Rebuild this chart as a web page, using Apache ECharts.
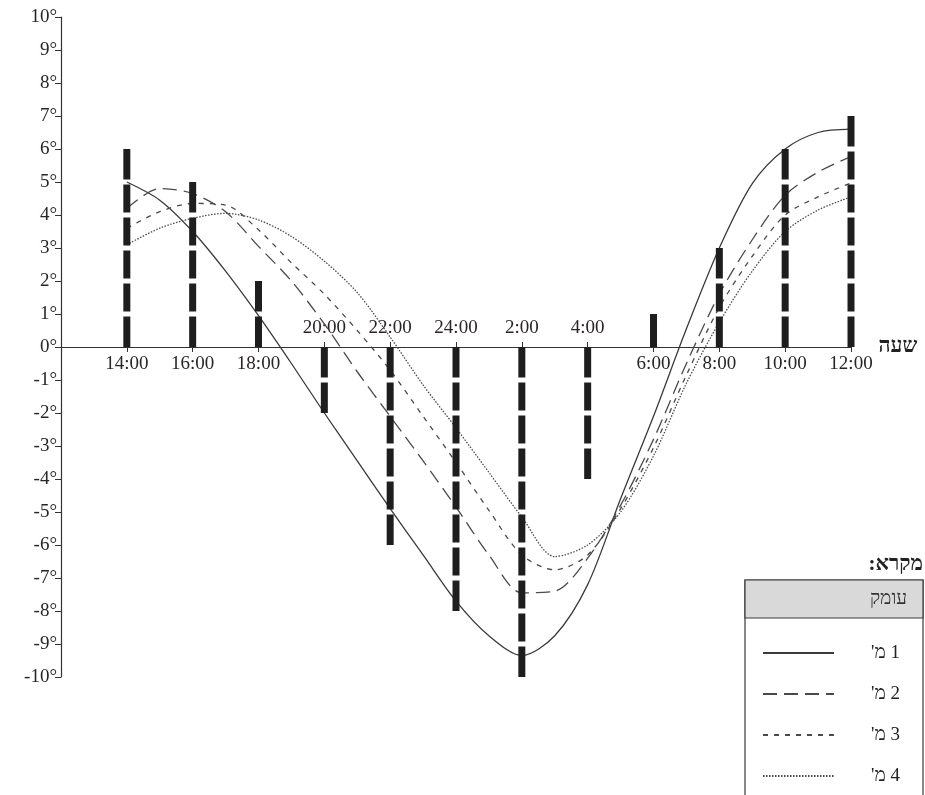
<!DOCTYPE html>
<html>
<head>
<meta charset="utf-8">
<script src="https://cdn.jsdelivr.net/npm/echarts@6/dist/echarts.min.js"></script>
<style>
html, body { margin: 0; padding: 0; background: #fff; }
#chart { width: 925px; height: 795px; }
</style>
</head>
<body>
<div id="chart"></div>
<script>
// שעות - ציר X (כל שעה, מ-12:00 בצהריים עד 12:00 למחרת)
var hours = ['12:00', '13:00', '14:00', '15:00', '16:00', '17:00', '18:00', '19:00', '20:00', '21:00', '22:00', '23:00', '24:00',
    '1:00', '2:00', '3:00', '4:00', '5:00', '6:00', '7:00', '8:00', '9:00', '10:00', '11:00', '12:00'];
var labelsAbove = ['20:00', '22:00', '24:00', '2:00', '4:00'];
var labelsBelow = ['14:00', '16:00', '18:00', '6:00', '8:00', '10:00', '12:00'];

// טמפרטורת האוויר (עמודות מקווקוות)
var barHours = ['14:00', '16:00', '18:00', '20:00', '22:00', '24:00', '2:00', '4:00', '6:00', '8:00', '10:00', '12:00'];
var barValues = [6, 5, 2, -2, -6, -8, -10, -4, 1, 3, 6, 7];

// טמפרטורה לפי עומק, מ-14:00 עד 12:00
var curveStart = '14:00';
var depth1 = [5.0, 4.45, 3.5, 2.3, 0.95, -0.5, -2.0, -3.45, -4.9, -6.3, -7.7, -8.75, -9.35, -8.75, -7.2, -4.6, -2.1, 0.55, 3.0, 4.95, 6.0, 6.5, 6.6];
var depth2 = [4.2, 4.8, 4.65, 4.1, 3.05, 2.0, 0.7, -0.75, -2.1, -3.45, -4.85, -6.3, -7.45, -7.4, -6.4, -4.8, -2.8, -0.5, 1.6, 3.25, 4.6, 5.3, 5.77];
var depth3 = [3.6, 4.1, 4.35, 4.3, 3.55, 2.55, 1.6, 0.5, -0.7, -2.1, -3.5, -4.95, -6.3, -6.75, -6.3, -4.9, -3.05, -0.85, 1.2, 2.75, 4.0, 4.55, 4.97];
var depth4 = [3.1, 3.6, 3.9, 4.05, 3.85, 3.35, 2.6, 1.65, 0.3, -1.15, -2.45, -3.8, -5.15, -6.35, -6.0, -5.0, -3.3, -1.1, 0.75, 2.3, 3.5, 4.15, 4.55];
var depthNames = ["1 מ'", "2 מ'", "3 מ'", "4 מ'"];

var FONT = "'Liberation Serif', 'DejaVu Serif', serif";
var RLE = '\u202B', PDF = '\u202C';

var chart = echarts.init(document.getElementById('chart'));

function pad(arr) {
    var lead = hours.indexOf(curveStart);
    var out = [];
    for (var i = 0; i < lead; i++) out.push(null);
    return out.concat(arr);
}

// עמודה מקווקוות - קטע לכל מעלה
function renderBar(params, api) {
    var x = api.value(0), v = api.value(1);
    var n = Math.abs(v), s = v < 0 ? -1 : 1;
    var w = 7, gap = 5;
    var children = [];
    for (var k = 0; k < n; k++) {
        var a = api.coord([x, k * s]);
        var b = api.coord([x, (k + 1) * s]);
        var top = Math.min(a[1], b[1]), bot = Math.max(a[1], b[1]);
        if (s > 0) {
            if (k + 1 < n) top += gap / 2;
            if (k > 0) bot -= gap / 2;
        } else {
            if (k > 0) top += gap / 2;
            if (k + 1 < n) bot -= gap / 2;
        }
        children.push({
            type: 'rect',
            shape: { x: a[0] - w / 2, y: top, width: w, height: bot - top },
            style: { fill: '#1e1e1e' }
        });
    }
    return { type: 'group', children: children };
}

var barData = barHours.map(function (h, i) {
    return [hours.indexOf(h, 1), barValues[i]];
});

var labelStyle = { fontFamily: FONT, fontSize: 19, color: '#2a2426' };

var lineStyles = [
    { color: '#3a3a3a', width: 1.3, type: 'solid' },
    { color: '#4a4a4a', width: 1.3, type: [14, 7] },
    { color: '#4a4a4a', width: 1.3, type: [5, 6] },
    { color: '#4a4a4a', width: 1.3, type: [1.5, 1.5] }
];
var depths = [depth1, depth2, depth3, depth4];

var series = depths.map(function (d, i) {
    return {
        name: depthNames[i],
        type: 'line',
        data: pad(d),
        smooth: 0.3,
        symbol: 'none',
        silent: true,
        z: 2,
        lineStyle: lineStyles[i]
    };
});
series.push({
    type: 'custom',
    renderItem: renderBar,
    data: barData,
    encode: { x: 0, y: 1 },
    silent: true,
    z: 3
});

// ציר ה-X יושב על קו האפס (מחצית גובה הרשת)
var GRID_TOP = 17, GRID_BOTTOM = 118;
var zeroShift = -(795 - GRID_TOP - GRID_BOTTOM) / 2;

var option = {
    backgroundColor: '#fff',
    animation: false,
    grid: { left: 61, right: 74, top: GRID_TOP, bottom: GRID_BOTTOM, containLabel: false, outerBoundsMode: 'none' },
    xAxis: [
        {
            type: 'category',
            data: hours,
            boundaryGap: false,
            position: 'bottom',
            offset: zeroShift,
            axisLine: { onZero: false, lineStyle: { color: '#333', width: 1.2 } },
            axisTick: {
                length: 5,
                lineStyle: { color: '#333' },
                interval: function (idx, val) { return idx > 0 && labelsBelow.indexOf(val) >= 0; }
            },
            axisLabel: Object.assign({
                margin: 8,
                interval: function (idx, val) { return idx > 0 && labelsBelow.indexOf(val) >= 0; }
            }, labelStyle),
            splitLine: { show: false },
            name: 'שעה',
            nameLocation: 'end',
            nameGap: 27,
            nameTextStyle: { fontFamily: FONT, fontSize: 21, fontWeight: 'bold', color: '#222' }
        },
        {
            type: 'category',
            data: hours,
            boundaryGap: false,
            position: 'top',
            offset: zeroShift,
            axisLine: { show: false, onZero: false },
            axisTick: {
                length: 5,
                lineStyle: { color: '#333' },
                interval: function (idx, val) { return labelsAbove.indexOf(val) >= 0; }
            },
            axisLabel: Object.assign({
                margin: 9,
                interval: function (idx, val) { return labelsAbove.indexOf(val) >= 0; }
            }, labelStyle),
            splitLine: { show: false }
        }
    ],
    yAxis: {
        type: 'value',
        min: -10,
        max: 10,
        interval: 1,
        axisLine: { show: true, onZero: false, lineStyle: { color: '#333', width: 1.2 } },
        axisTick: { show: true, length: 6, lineStyle: { color: '#333' } },
        axisLabel: Object.assign({
            margin: 4,
            formatter: function (v) { return v + '°'; }
        }, labelStyle),
        splitLine: { show: false }
    },
    legend: {
        orient: 'vertical',
        left: 757,
        top: 638,
        itemWidth: 71,
        itemHeight: 20,
        itemGap: 21,
        selectedMode: false,
        data: depthNames,
        formatter: function (n) { return RLE + n + PDF; },
        itemStyle: { color: 'transparent', borderWidth: 0, opacity: 0 },
        textStyle: { fontFamily: FONT, fontSize: 19, color: '#222', lineHeight: 20, padding: [0, 0, 0, 32] },
        z: 10
    },
    graphic: [
        {
            type: 'rect', z: 5,
            shape: { x: 745, y: 580, width: 178, height: 240 },
            style: { fill: '#fff', stroke: '#3a3a3a', lineWidth: 1.2 }
        },
        {
            type: 'rect', z: 6,
            shape: { x: 745, y: 580, width: 178, height: 38 },
            style: { fill: '#d9d9d9', stroke: '#3a3a3a', lineWidth: 1.2 }
        },
        {
            type: 'text', z: 7,
            style: { x: 907, y: 599, text: RLE + 'עומק' + PDF, align: 'right', verticalAlign: 'middle',
                fontFamily: FONT, fontSize: 19, fill: '#333' }
        },
        {
            type: 'text', z: 7,
            style: { x: 923, y: 565, text: RLE + 'מקרא:' + PDF, align: 'right', verticalAlign: 'middle',
                fontFamily: FONT, fontSize: 21, fontWeight: 'bold', fill: '#222' }
        }
    ],
    series: series
};

chart.setOption(option);
</script>
</body>
</html>
